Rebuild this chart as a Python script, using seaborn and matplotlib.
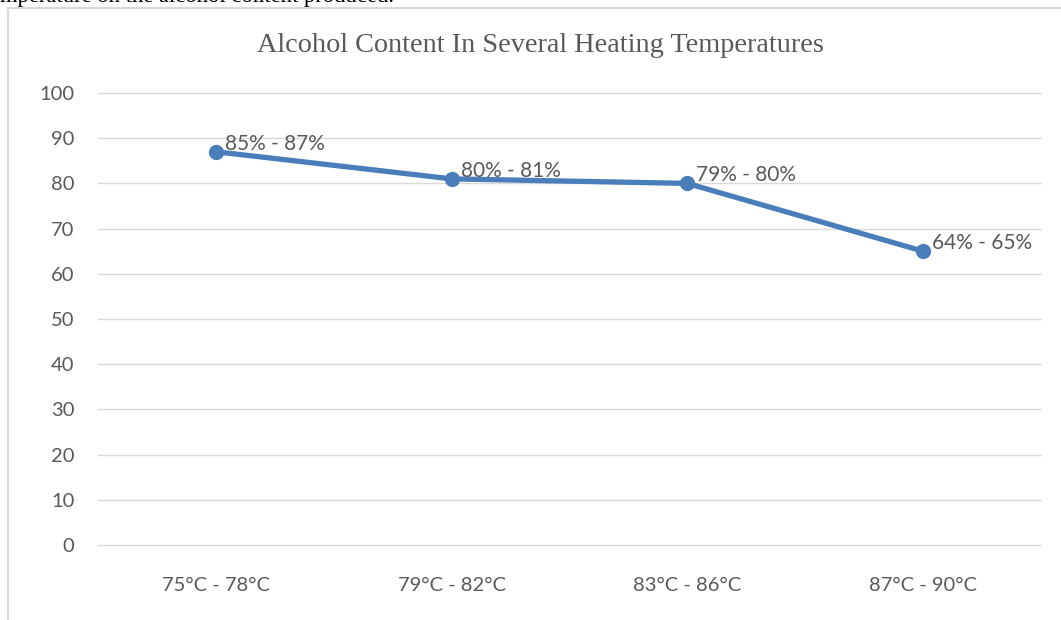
import matplotlib.pyplot as plt
import seaborn as sns
import pandas as pd
from matplotlib.lines import Line2D

temps = ["75°C - 78°C", "79°C - 82°C", "83°C - 86°C", "87°C - 90°C"]
alcohol = [87, 81, 80, 65]
labels = ["85% - 87%", "80% - 81%", "79% - 80%", "64% - 65%"]

df = pd.DataFrame({"temp": temps, "alcohol": alcohol})

sns.set_style("white")
plt.rcParams["font.family"] = ["Lato", "DejaVu Sans"]

W, H = 1061, 620
fig = plt.figure(figsize=(W / 100, H / 100), dpi=100)
ax = fig.add_axes([98 / W, (H - 545) / H, (1041 - 98) / W, (545 - 93) / H])

grey = "#595959"
blue = "#4a7ebb"

sns.lineplot(data=df, x="temp", y="alcohol", ax=ax, color=blue, linewidth=3.8,
             marker="o", markersize=11, markeredgewidth=0, zorder=3)

for i, (v, t) in enumerate(zip(alcohol, labels)):
    ax.annotate(t, (i, v), xytext=(9, 8), textcoords="offset pixels",
                ha="left", va="center", fontsize=15, color=grey)

ax.set_ylim(0, 100)
ax.set_yticks(range(0, 101, 10))
ax.set_xlim(-0.5, 3.5)
ax.grid(axis="y", color="#d9d9d9", linewidth=1)
for g in ax.get_ygridlines():
    g.set_clip_on(False)
ax.set_axisbelow(True)
for s in ax.spines.values():
    s.set_visible(False)
ax.tick_params(axis="both", length=0, labelsize=14.5, labelcolor=grey)
ax.tick_params(axis="y", pad=17)
ax.tick_params(axis="x", pad=23)
ax.set_xlabel("")
ax.set_ylabel("")

fig.text(540 / W, 1 - 46 / H, "Alcohol Content In Several Heating Temperatures",
         ha="center", va="center", fontsize=20.3, color=grey, family="Liberation Serif")

# text of the page above the chart, cut off at the top
fig.text(0, 1 - 2 / H, "mperature on the alcohol content produced.",
         ha="left", va="baseline", fontsize=16.3, color="black", family="Liberation Serif")

# chart frame
fig.add_artist(Line2D([8 / W, 8 / W], [0, 1 - 8 / H], transform=fig.transFigure,
                      color="#d9d9d9", linewidth=1.5))
fig.add_artist(Line2D([8 / W, 1], [1 - 8 / H, 1 - 8 / H], transform=fig.transFigure,
                      color="#d9d9d9", linewidth=1.5))

fig.savefig("out.png", dpi=100)
